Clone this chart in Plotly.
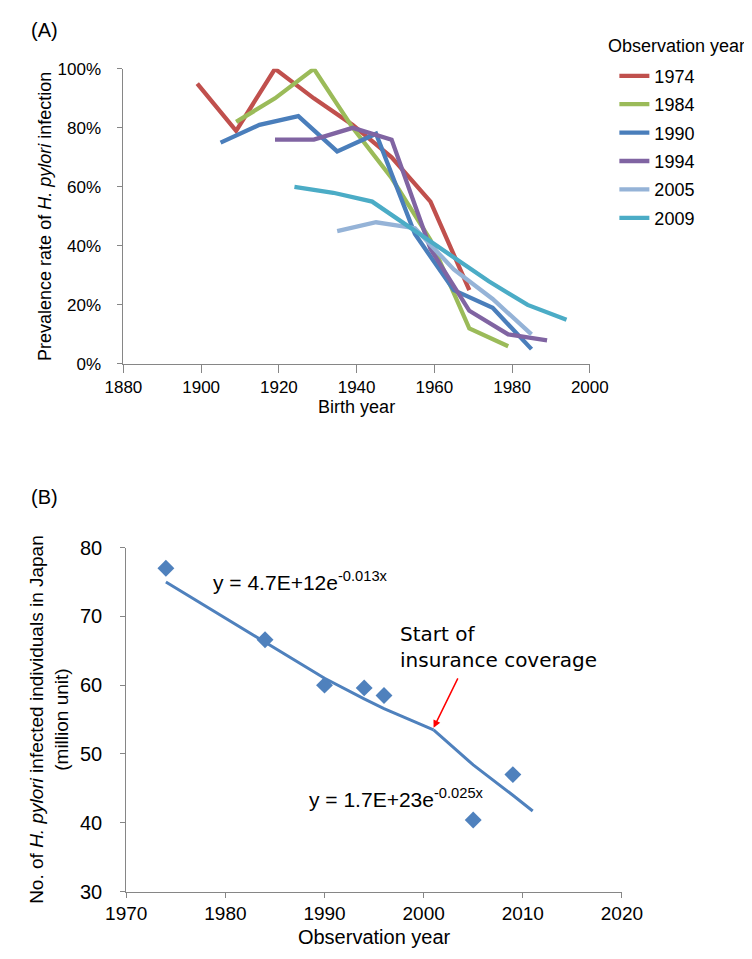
import plotly.graph_objects as go

# ---- panel A: prevalence by birth year, one series per observation year ----
obs_years = ['1974', '1984', '1990', '1994', '2005', '2009']
colors = ['#C0504D', '#9BBB59', '#4A7EBB', '#8064A2', '#95B3D7', '#4BACC6']

birth_1974 = [1899, 1909, 1919, 1929, 1939, 1949, 1959, 1969]
prev_1974 = [95, 79, 100, 90, 81, 70, 55, 25]

birth_1984 = [1909, 1919, 1929, 1939, 1949, 1959, 1969, 1979]
prev_1984 = [82, 90, 100, 80, 63, 42, 12, 6]

birth_1990 = [1905, 1915, 1925, 1935, 1945, 1955, 1965, 1975, 1985]
prev_1990 = [75, 81, 84, 72, 78, 44, 25, 19, 5]

birth_1994 = [1919, 1929, 1939, 1949, 1959, 1969, 1979, 1989]
prev_1994 = [76, 76, 80, 76, 39, 18, 10, 8]

birth_2005 = [1935, 1945, 1955, 1965, 1975, 1985]
prev_2005 = [45, 48, 46, 32, 22, 10]

birth_2009 = [1924, 1934, 1944, 1954, 1964, 1974, 1984, 1994]
prev_2009 = [60, 58, 55, 46, 37, 28, 20, 15]

series_a = [
    (birth_1974, prev_1974),
    (birth_1984, prev_1984),
    (birth_1990, prev_1990),
    (birth_1994, prev_1994),
    (birth_2005, prev_2005),
    (birth_2009, prev_2009),
]

# ---- panel B: number of infected individuals (million) ----
survey_year = [1974, 1984, 1990, 1994, 1996, 2005, 2009]
infected = [77.0, 66.6, 60.0, 59.6, 58.5, 40.4, 47.0]

# fitted curves
trend1_x = [1974, 1984, 1990, 1994, 1996, 2001]
trend1_y = [75.0, 66.2, 61.0, 58.0, 56.6, 53.5]
trend2_x = [2001, 2005, 2009, 2011]
trend2_y = [53.5, 48.4, 44.0, 41.7]

FONT = 'Liberation Sans, Arial, sans-serif'
NARROW = 'Liberation Sans Narrow, Arial Narrow, Liberation Sans, Arial, sans-serif'
VERDANA = 'DejaVu Sans, Verdana, sans-serif'
AXIS_GREY = '#868686'
W, H = 752, 959

fig = go.Figure()

for i, (name, (xs, ys)) in enumerate(zip(obs_years, series_a)):
    fig.add_trace(go.Scatter(x=xs, y=ys, mode='lines', name=name,
                             legendgroup=name,
                             line=dict(color=colors[i], width=4.3),
                             xaxis='x', yaxis='y'))

fig.add_trace(go.Scatter(x=trend1_x, y=trend1_y, mode='lines', showlegend=False,
                         line=dict(color='#4F81BD', width=3), xaxis='x2', yaxis='y2'))
fig.add_trace(go.Scatter(x=trend2_x, y=trend2_y, mode='lines', showlegend=False,
                         line=dict(color='#4F81BD', width=3), xaxis='x2', yaxis='y2'))
fig.add_trace(go.Scatter(x=survey_year, y=infected, mode='markers', showlegend=False,
                         marker=dict(symbol='diamond', size=13, color='#4F81BD'),
                         xaxis='x2', yaxis='y2'))

axis_common = dict(showgrid=False, zeroline=False, showline=True, linecolor=AXIS_GREY,
                   linewidth=1, ticks='outside', ticklen=5, tickcolor=AXIS_GREY,
                   tickfont=dict(family=FONT, size=17, color='#000000'))


def px_x(p):
    return p / W


def px_y(p):
    return 1 - p / H


annotations = [
    dict(text='(A)', x=0, y=px_y(11), xref='paper', yref='paper', xanchor='left',
         yanchor='middle', showarrow=False, font=dict(family=FONT, size=20)),
    dict(text='(B)', x=0, y=px_y(489), xref='paper', yref='paper', xanchor='left',
         yanchor='middle', showarrow=False, font=dict(family=FONT, size=20)),
    dict(text='Observation year', x=px_x(611), y=px_y(28), xref='paper', yref='paper',
         xanchor='left', yanchor='middle', showarrow=False, font=dict(family=FONT, size=18)),
    dict(text='y = 4.7E+12e<sup>-0.013x</sup>', x=1978.5, y=75.2, xref='x2', yref='y2',
         xanchor='left', yanchor='middle', showarrow=False, font=dict(family=FONT, size=21)),
    dict(text='y = 1.7E+23e<sup>-0.025x</sup>', x=1988.2, y=43.6, xref='x2', yref='y2',
         xanchor='left', yanchor='middle', showarrow=False, font=dict(family=FONT, size=21)),
    dict(text='Start of', x=1997.4, y=67.4, xref='x2', yref='y2',
         xanchor='left', yanchor='middle', showarrow=False, font=dict(family=VERDANA, size=20)),
    dict(text='insurance coverage', x=1997.4, y=63.6, xref='x2', yref='y2',
         xanchor='left', yanchor='middle', showarrow=False, font=dict(family=VERDANA, size=20)),
    dict(text='', x=trend2_x[0], y=trend2_y[0] + 0.3, xref='x2', yref='y2',
         ax=25, ay=-51, showarrow=True, arrowhead=2, arrowsize=1, arrowwidth=1.5,
         arrowcolor='#FF0000'),
]

fig.update_layout(
    width=W, height=H, autosize=False,
    margin=dict(l=0, r=0, t=0, b=0),
    paper_bgcolor='white', plot_bgcolor='white',
    font=dict(family=FONT, size=17, color='#000000'),
    xaxis=dict(axis_common, domain=[px_x(100), px_x(594)], range=[1880, 2000],
               dtick=20, tick0=1880, anchor='y', ticklen=8,
               title=dict(text='Birth year', standoff=0, font=dict(family=FONT, size=18))),
    yaxis=dict(axis_common, domain=[px_y(353), px_y(51)], range=[0, 100],
               dtick=20, ticksuffix='%', anchor='x', ticklabelstandoff=13,
               title=dict(text='Prevalence rate of <i>H. pylori</i> infection', standoff=1,
                          font=dict(family=FONT, size=18))),
    xaxis2=dict(axis_common, domain=[px_x(103), px_x(628)], range=[1970, 2020],
                dtick=10, anchor='y2',
                tickfont=dict(family=NARROW, size=19, color='#000000'),
                title=dict(text='Observation year', standoff=6,
                           font=dict(family=NARROW, size=20))),
    yaxis2=dict(axis_common, domain=[px_y(893), px_y(541)], range=[30, 80],
                dtick=10, anchor='x2', ticklabelstandoff=14,
                tickfont=dict(family=NARROW, size=20, color='#000000'),
                title=dict(text='No. of <i>H. pylori</i> infected individuals in Japan<br>(million unit)',
                           standoff=6, font=dict(family=FONT, size=19))),
    legend=dict(x=px_x(620), y=px_y(39.5), xanchor='left', yanchor='top',
                traceorder='grouped', tracegroupgap=2,
                font=dict(family=FONT, size=18),
                bgcolor='rgba(0,0,0,0)'),
    annotations=annotations,
    showlegend=True,
)

fig.write_html('out.html')
